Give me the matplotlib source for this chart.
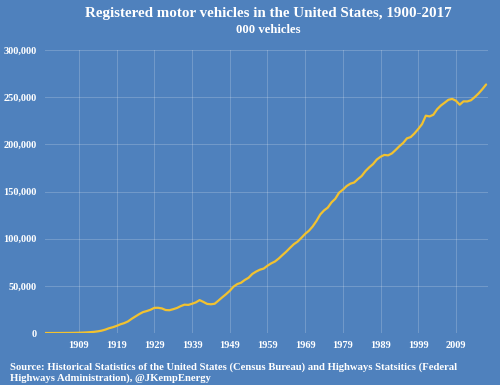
import matplotlib
matplotlib.use("Agg")
import matplotlib.pyplot as plt
import numpy as np

# Registered motor vehicles, thousands
years = list(range(1900, 2018))
vehicles = [
    8, 15, 23, 33, 55, 78, 108, 143, 198, 312,          # 1900-1909
    469, 639, 944, 1258, 1763, 2491, 3618, 5119, 6160, 7576,  # 1910-1919
    9239, 10494, 12274, 15102, 17613, 20069, 22200, 23303, 24689, 26705,  # 1920-1929
    26750, 26094, 24391, 24159, 25262, 26546, 28507, 30059, 29813, 31010,  # 1930-1939
    32453, 34894, 33003, 30888, 30479, 31035, 34373, 37841, 41085, 44690,  # 1940-1949
    49162, 51914, 53301, 56280, 58590, 62689, 65154, 67131, 68299, 71354,  # 1950-1959
    73858, 75846, 79002, 82713, 86301, 90358, 94167, 96905, 100891, 105097,  # 1960-1969
    108418, 112986, 118797, 125656, 129943, 132949, 138518, 142353, 148778, 151917,  # 1970-1979
    155796, 158330, 159566, 163221, 166478, 171690, 175670, 179044, 183930, 186864,  # 1980-1989
    188798, 188372, 190362, 194063, 198045, 201530, 206365, 207754, 211617, 216309,  # 1990-1999
    221475, 230428, 229620, 231390, 237243, 241194, 244166, 247265, 248215, 246283,  # 2000-2009
    242061, 245628, 245500, 246800, 250200, 254000, 258500, 263500,  # 2010-2017
]

bg = '#4F81BD'
line_col = '#F2C230'
serif = ['Liberation Serif', 'DejaVu Serif']

fig = plt.figure(figsize=(5, 3.85), dpi=100, facecolor=bg)
ax = fig.add_axes([0.09, 0.135, 0.886, 0.735])
ax.set_facecolor(bg)

ax.plot(years, vehicles, color=line_col, linewidth=1.6, solid_capstyle='round')

ax.set_xlim(1900, 2017.5)
ax.set_ylim(0, 300000)
ax.set_xticks(list(range(1909, 2010, 10)))
ax.set_yticks(list(range(0, 300001, 50000)))
ax.set_yticklabels([f'{v:,}' for v in range(0, 300001, 50000)])

ax.grid(True, color='white', alpha=0.2, linewidth=0.7)
ax.set_axisbelow(True)
for s in ax.spines.values():
    s.set_visible(False)
ax.tick_params(length=0, colors='white', pad=6)
for lab in ax.get_xticklabels() + ax.get_yticklabels():
    lab.set_family(serif)
    lab.set_fontweight('bold')
    lab.set_fontsize(7.5)
    lab.set_color('white')

fig.text(0.536, 0.965, 'Registered motor vehicles in the United States, 1900-2017',
         ha='center', va='center', color='white', fontsize=10.8,
         fontweight='bold', family=serif)
fig.text(0.536, 0.922, '000 vehicles', ha='center', va='center', color='white',
         fontsize=9.2, fontweight='bold', family=serif)

fig.text(0.02, 0.006,
         'Source: Historical Statistics of the United States (Census Bureau) and Highways Statsitics (Federal\n'
         'Highways Administration), @JKempEnergy',
         ha='left', va='bottom', color='white', fontsize=7.7, fontweight='bold',
         family=serif, linespacing=1.2)

fig.savefig('out.png', dpi=100, facecolor=bg)
